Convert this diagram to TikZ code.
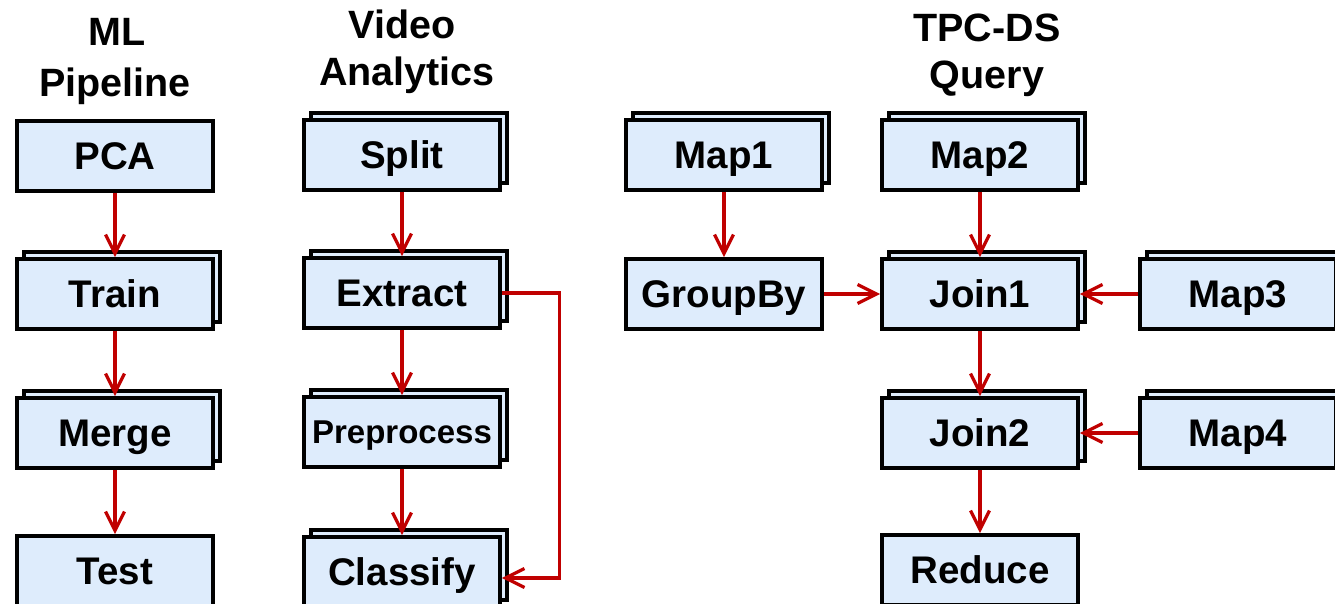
\documentclass[tikz,border=0pt]{standalone}
\usepackage{fontspec}
\setmainfont{Liberation Sans}
\usetikzlibrary{arrows.meta,shadows}
\definecolor{boxfill}{RGB}{222,236,252}
\definecolor{flowred}{RGB}{192,0,0}

\begin{document}
\begin{tikzpicture}[x=1pt,y=-1pt,
  task/.style={draw=black, line width=3.6pt, fill=boxfill,
    minimum width=196pt, minimum height=70pt, inner xsep=0pt, inner ysep=0pt,
    text height=27.6pt, text depth=0pt,
    font=\fontsize{38.5}{46}\selectfont\bfseries},
  multi/.style={task, copy shadow={shadow xshift=7pt, shadow yshift=7pt}},
  smalltext/.style={text height=23.6pt, font=\fontsize{33}{40}\selectfont\bfseries},
  title/.style={font=\fontsize{39.5}{47}\selectfont\bfseries, inner sep=0pt, anchor=base},
  flow/.style={draw=flowred, line width=3.3pt, -{Straight Barb[length=19pt,width=19pt]}}
]
\useasboundingbox (0,0) rectangle (1335,604);

% column titles
\node[title] (mlA) at (117,46) {ML};
\node[title] (mlB) at (115,97) {Pipeline};
\node[title] (vaA) at (402,39) {Video};
\node[title] (vaB) at (407,86) {Analytics};
\node[title] (tpA) at (987,42) {TPC-DS};
\node[title] (tpB) at (987,89) {Query};

% ML pipeline
\node[task]  (pca)   at (115,156) {PCA};
\node[multi] (train) at (115,294) {Train};
\node[multi] (merge) at (115,433) {Merge};
\node[task]  (test)  at (115,571) {Test};

% video analytics
\node[multi] (split)    at (402,155) {Split};
\node[multi] (extract)  at (402,293) {Extract};
\node[multi,smalltext] (prep) at (402,432) {Preprocess};
\node[multi] (classify) at (402,572) {Classify};

% TPC-DS query
\node[multi] (map1)    at (724,155) {Map1};
\node[task]  (groupby) at (724,294) {GroupBy};
\node[multi] (map2)    at (980,155) {Map2};
\node[multi] (join1)   at (980,294) {Join1};
\node[multi] (join2)   at (980,433) {Join2};
\node[task]  (reduce)  at (980,570) {Reduce};
\node[multi] (map3)    at (1238,294) {Map3};
\node[multi] (map4)    at (1238,433) {Map4};

% data flow
\draw[flow] (pca.south) -- (train.north);
\draw[flow] (train.south) -- (merge.north);
\draw[flow] (merge.south) -- (test.north);

\draw[flow] (split.south) -- (extract.north);
\draw[flow] (extract.south) -- (prep.north);
\draw[flow] (prep.south) -- (classify.north);
\draw[flow] (extract.east) -- ++(58,0) |- ([yshift=-6pt]classify.east);

\draw[flow] (map1.south) -- (groupby.north);
\draw[flow] (groupby.east) -- (join1.west);
\draw[flow] (map2.south) -- (join1.north);
\draw[flow] (map3.west) -- (join1.east);
\draw[flow] (join1.south) -- (join2.north);
\draw[flow] (map4.west) -- (join2.east);
\draw[flow] (join2.south) -- (reduce.north);
\end{tikzpicture}
\end{document}
